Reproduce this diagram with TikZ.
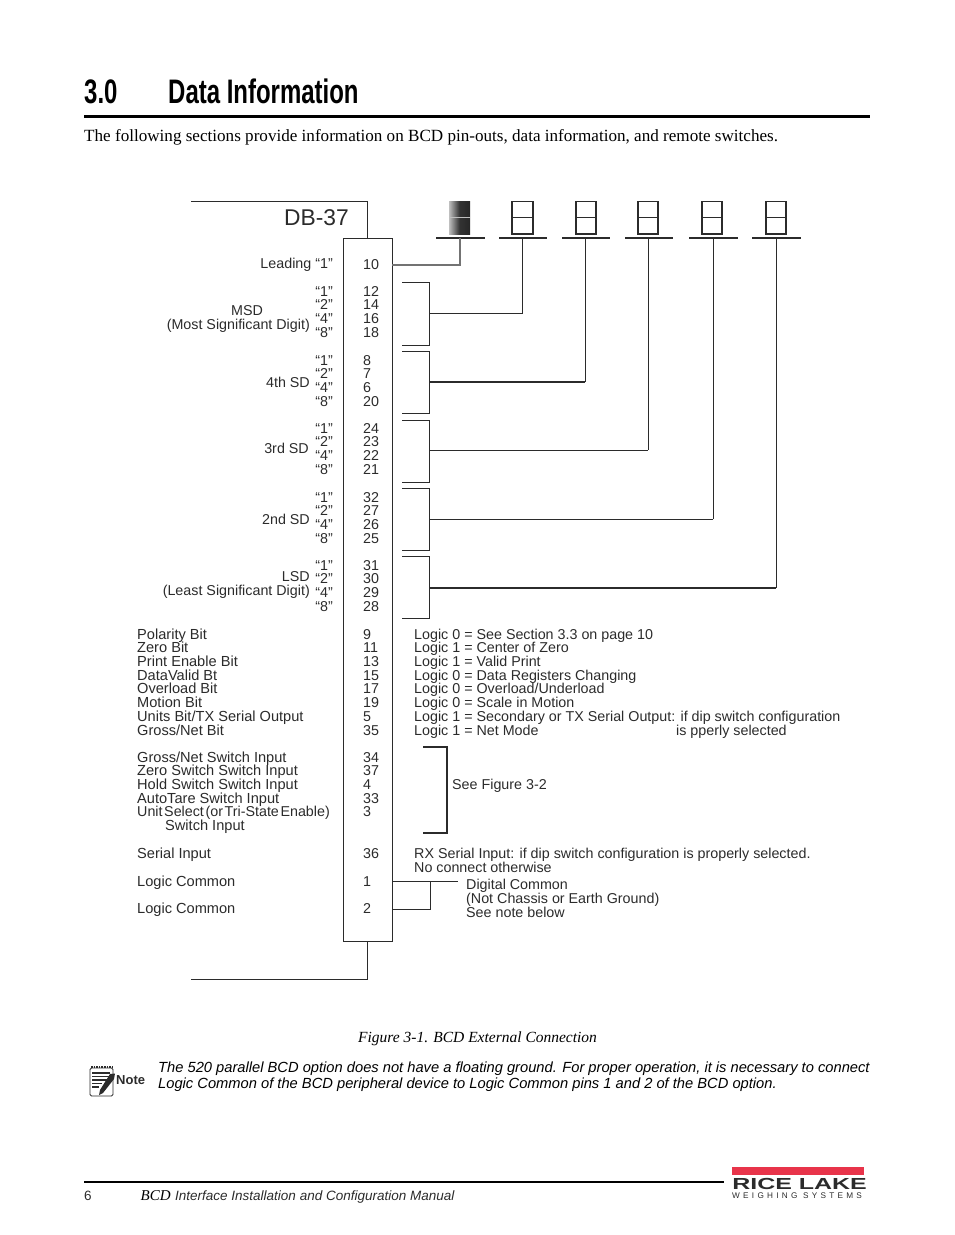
\documentclass[tikz,border=0pt]{standalone}
\usepackage{fontspec}
\setmainfont{Liberation Sans}
\newfontfamily\serifbody{Liberation Serif}
\newfontfamily\headfont[FakeStretch=0.705]{Liberation Sans Bold}
\newfontfamily\logofont[LetterSpace=40]{Liberation Sans}
\definecolor{inkgrey}{HTML}{2B2B2B}
\definecolor{ricered}{HTML}{E8344A}
\tikzset{
    wire/.style={draw=inkgrey,line width=0.9pt},
    thickwire/.style={draw=inkgrey,line width=1.3pt},
    lbl/.style={inner sep=0pt,anchor=base west,font=\fontsize{14.3}{14.3}\selectfont,text=inkgrey},
    lblr/.style={lbl,anchor=base east},
    lblwide/.style={lbl,font=\fontsize{14.6}{14.6}\selectfont},
    pin/.style={lbl},
    segbox/.style={draw=inkgrey,line width=1.3pt},
    underbar/.style={draw=inkgrey,line width=1.5pt}
}
\begin{document}
\begin{tikzpicture}[x=1pt,y=-1pt]
    \useasboundingbox (0,0) rectangle (954,1235);
    % Titolo
    \node[lbl,text=black,font=\headfont\fontsize{34}{34}\selectfont] (numtitle) at (84,103) {3.0};
    \node[lbl,text=black,font=\headfont\fontsize{34}{34}\selectfont] (title) at (168,103) {Data Information};
    \draw[black,line width=3pt] (84,116.5) -- (870,116.5);
    \node[lbl,text=black,font=\serifbody\fontsize{17.1}{17.1}\selectfont] (intro) at (84,141) {The following sections provide information on BCD pin-outs, data information, and remote switches.};

    % Connettore DB-37
    \draw[wire] (191,201) -- (367,201) -- (367,238);
    \draw[wire] (367,941) -- (367,979) -- (191,979);
    \node[draw=inkgrey,line width=1.1pt,minimum width=49pt,minimum height=703pt,inner sep=0pt,anchor=north west] (conn) at (343,238) {};
    \node[lblr,font=\fontsize{22.8}{22.8}\selectfont] (dbname) at (349,225) {DB-37};

    % Display a sette segmenti
    \foreach \n/\xa/\xb/\xs/\xl/\xr in {1/449/470/460/436/485,2/512/533/522.5/499/547,3/576/596/585/562/610,4/638/658/648/625/673,5/702/722/713/689/738,6/766/786/776/752/801}{
        \coordinate (barl\n) at (\xl,238);
        \coordinate (barr\n) at (\xr,238);
        \coordinate (stem\n) at (\xs,238);
        \draw[underbar] (barl\n) -- (barr\n);
        \ifnum\n=1
            \shade[left color=black!25,right color=black!85,middle color=black!80] (\xa,201) rectangle (\xb,234);
            \draw[black!25,line width=1pt] (\xa,217.5) -- (\xb,217.5);
        \else
            \draw[segbox] (\xa,201.5) rectangle (\xb,234);
            \draw[segbox] (\xa,217.5) -- (\xb,217.5);
        \fi
    }

    % Pin 10
    \coordinate (lead) at (392,265);
    \draw[wire,draw=black!55,line width=1.2pt] (lead) -- (460,265) -- (stem1);

    % Parentesi delle cifre
    \foreach \n/\ya/\yb/\ym/\w in {2/282/345/313/0.9,3/351/413/382/1.5,4/420/482/450/0.9,5/488/550/519/0.9,6/556/618/588/1.5}{
        \coordinate (bracka\n) at (402,\ya);
        \coordinate (brackb\n) at (402,\yb);
        \coordinate (out\n) at (429,\ym);
        \draw[wire] (bracka\n) -- (429,\ya) -- (429,\yb) -- (brackb\n);
        \draw[draw=inkgrey,line width=\w pt] (out\n) -- (out\n -| stem\n);
        \draw[wire] (out\n -| stem\n) -- (stem\n);
    }

    % Cifre e pesi
    \node[lblr] (leadlbl) at (333,268) {Leading “1”};
    \node[pin] (pin10) at (363,269) {10};
    \foreach \n/\y/\pa/\pb/\pc/\pd in {a/296/12/14/16/18,b/365/8/7/6/20,c/433/24/23/22/21,d/502/32/27/26/25,e/570/31/30/29/28}{
        \node[lblr] (wa\n) at (333,\y) {“1”};
        \node[lblr] (wb\n) at (333,\y+13.7) {“2”};
        \node[lblr] (wc\n) at (333,\y+27.4) {“4”};
        \node[lblr] (wd\n) at (333,\y+41) {“8”};
        \node[pin] (pa\n) at (363,\y) {\pa};
        \node[pin] (pb\n) at (363,\y+13.7) {\pb};
        \node[pin] (pc\n) at (363,\y+27.4) {\pc};
        \node[pin] (pd\n) at (363,\y+41) {\pd};
    }
    \node[lbl,anchor=base] (msd) at (247,315) {MSD};
    \node[lblr] (msdlong) at (310,329) {(Most Significant Digit)};
    \node[lblr] (sd4) at (310,387) {4th SD};
    \node[lblr] (sd3) at (309,453) {3rd SD};
    \node[lblr] (sd2) at (310,524) {2nd SD};
    \node[lblr] (lsd) at (310,581) {LSD};
    \node[lblr] (lsdlong) at (310,595) {(Least Significant Digit)};

    % Bit di stato
    \foreach \n/\y/\name/\p/\logic in {
        1/639/Polarity Bit/9/Logic 0 = See Section 3.3 on page 10,
        2/652.7/Zero Bit/11/Logic 1 = Center of Zero,
        3/666.4/Print Enable Bit/13/Logic 1 = Valid Print,
        4/680.1/DataValid Bt/15/Logic 0 = Data Registers Changing,
        5/693.8/Overload Bit/17/{Logic 0 = Overload{/}Underload},
        6/707.5/Motion Bit/19/Logic 0 = Scale in Motion,
        7/721.2/{Units Bit{/}TX Serial Output}/5/Logic 1 = Secondary or TX Serial Output: if dip switch configuration,
        8/735/{Gross{/}Net Bit}/35/Logic 1 = Net Mode}{
        \node[lblwide] (bit\n) at (137,\y) {\name};
        \node[pin] (bitpin\n) at (363,\y) {\p};
        \node[lbl] (logic\n) at (414,\y) {\logic};
    }
    \node[lbl] (proper) at (676,735) {is pperly selected};

    % Ingressi
    \foreach \n/\y/\name/\p in {
        1/762/{Gross{/}Net Switch Input}/34,
        2/775.7/Zero Switch Switch Input/37,
        3/789.4/Hold Switch Switch Input/4,
        4/803.1/AutoTare Switch Input/33,
        6/858/Serial Input/36,
        7/886/Logic Common/1,
        8/913/Logic Common/2}{
        \node[lblwide] (inp\n) at (137,\y) {\name};
        \node[pin] (inppin\n) at (363,\y) {\p};
    }
    \node[lbl] (inp5) at (137,816.8) {\spaceskip=1.6pt Unit Select (or Tri-State Enable)};
    \node[pin] (inppin5) at (363,816.8) {3};
    \node[lblwide] (swinput) at (165,830.5) {Switch Input};

    \coordinate (seea) at (423,747);
    \coordinate (seeb) at (423,833);
    \draw[thickwire] (seea) -- (447,747) -- (447,833) -- (seeb);
    \node[lbl] (seefig) at (452,789) {See Figure 3-2};

    \node[lbl] (rx) at (414,858) {RX Serial Input: if dip switch configuration is properly selected.};
    \node[lbl] (noconn) at (414,872) {No connect otherwise};

    % Massa comune
    \coordinate (gnda) at (392,881);
    \coordinate (gndb) at (392,909);
    \coordinate (gndc) at (458,881);
    \draw[wire] (gnda) -- (gndc);
    \draw[wire] (430,881) -- (430,909) -- (gndb);
    \node[lbl] (digc) at (466,889) {Digital Common};
    \node[lbl] (chassis) at (466,903) {(Not Chassis or Earth Ground)};
    \node[lbl] (seenote) at (466,917) {See note below};

    % Didascalia e nota
    \node[lbl,text=black,font=\serifbody\itshape\fontsize{15.5}{15.5}\selectfont] (caption) at (358,1042) {Figure 3-1. BCD External Connection};
    \node[lbl,text=black,font=\itshape\fontsize{14.7}{14.7}\selectfont] (notea) at (158,1072) {The 520 parallel BCD option does not have a floating ground. For proper operation, it is necessary to connect};
    \node[lbl,text=black,font=\itshape\fontsize{14.7}{14.7}\selectfont] (noteb) at (158,1088) {Logic Common of the BCD peripheral device to Logic Common pins 1 and 2 of the BCD option.};
    \node[lbl,font=\bfseries\fontsize{13}{13}\selectfont] (notelbl) at (116,1084) {Note};
    % Icona nota
    \draw[inkgrey,line width=0.9pt,rounded corners=1.5pt] (90,1068) rectangle (113,1096);
    \draw[inkgrey,line width=1.6pt,densely dotted] (91,1067) -- (112,1067);
    \foreach \y/\xe in {1073/110,1076.5/110,1080/107,1083.5/102,1087/99}{
        \draw[inkgrey,line width=1.1pt] (92,\y) -- (\xe,\y);
    }
    \fill[inkgrey] (115,1073.5) -- (110,1074) -- (100,1090) -- (99,1095) -- (103,1093) -- (114,1079) -- cycle;

    % Piede di pagina
    \draw[black,line width=2pt] (84,1182) -- (724,1182);
    \node[lbl,font=\fontsize{13.5}{13.5}\selectfont] (pagenum) at (84,1200) {6};
    \node[lbl,text=black,font=\serifbody\itshape\fontsize{15}{15}\selectfont] (bcd) at (140.5,1200) {BCD};
    \node[lbl,font=\itshape\fontsize{13.5}{13.5}\selectfont] (manual) at (175,1200) {Interface Installation and Configuration Manual};

    % Marchio
    \fill[ricered] (732,1167) rectangle (864,1175);
    \node[lbl,anchor=base west,font=\bfseries\fontsize{16}{16}\selectfont,xscale=1.56] (rice) at (732,1189) {RICE LAKE};
    \node[lbl,font=\logofont\fontsize{8.2}{8.2}\selectfont] (weigh) at (732,1198) {WEIGHING SYSTEMS};
\end{tikzpicture}
\end{document}
